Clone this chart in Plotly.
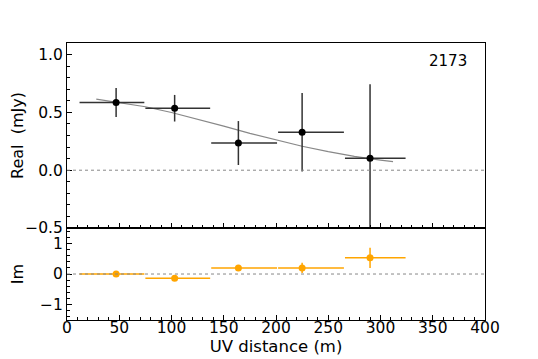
import plotly.graph_objects as go
from plotly.subplots import make_subplots

# binned visibilities
uv_dist = [47, 103, 164, 225, 290]
bin_lo = [12, 75, 138, 202, 266]
bin_hi = [74, 137, 201, 265, 324]

real_vals = [0.585, 0.536, 0.235, 0.328, 0.104]
real_err = [0.125, 0.115, 0.19, 0.34, 0.64]

imag_vals = [0.0, -0.14, 0.2, 0.2, 0.53]
imag_err = [0.04, 0.05, 0.07, 0.17, 0.33]

# model curve
model_x = [28, 50, 75, 100, 125, 150, 175, 200, 225, 250, 275, 300, 312]
model_y = [0.615, 0.587, 0.549, 0.499, 0.442, 0.381, 0.319, 0.260, 0.207, 0.160, 0.120, 0.088, 0.075]

label = '2173'

_FONT = 'DejaVu Sans'
_ORANGE = '#FFA500'
_ERR = '#333333'

xm = [x - lo for x, lo in zip(uv_dist, bin_lo)]
xp = [hi - x for x, hi in zip(uv_dist, bin_hi)]

fig = make_subplots(rows=2, cols=1, shared_xaxes=True, vertical_spacing=0,
                    row_heights=[0.668, 0.332])

fig.add_trace(go.Scatter(
    x=model_x, y=model_y, mode='lines',
    line=dict(color='#888888', width=1.2), showlegend=False,
), row=1, col=1)

fig.add_trace(go.Scatter(
    x=uv_dist, y=real_vals, mode='markers',
    marker=dict(color='black', size=7),
    error_x=dict(type='data', symmetric=False, array=xp, arrayminus=xm,
                 color=_ERR, thickness=1.5, width=0),
    error_y=dict(type='data', array=real_err, color=_ERR, thickness=1.5, width=0),
    showlegend=False,
), row=1, col=1)

fig.add_trace(go.Scatter(
    x=uv_dist, y=imag_vals, mode='markers',
    marker=dict(color=_ORANGE, size=7),
    error_x=dict(type='data', symmetric=False, array=xp, arrayminus=xm,
                 color=_ORANGE, thickness=1.5, width=0),
    error_y=dict(type='data', array=imag_err, color=_ORANGE, thickness=1.5, width=0),
    showlegend=False,
), row=2, col=1)

for r in (1, 2):
    fig.add_hline(y=0, line=dict(color='#888888', width=1, dash='dot'), row=r, col=1)

axis_common = dict(
    showline=True, linecolor='black', linewidth=1, mirror=True,
    ticks='inside', ticklen=5, tickcolor='black', showgrid=False, zeroline=False,
    tickfont=dict(size=15.5, color='black'),
)

fig.update_xaxes(range=[0, 400], dtick=50,
                 minor=dict(ticks='inside', dtick=10, ticklen=3, tickcolor='black'),
                 **axis_common)
fig.update_xaxes(showticklabels=False, row=1, col=1)
fig.update_xaxes(title=dict(text='UV distance (m)', font=dict(size=16.5, color='black'), standoff=4),
                 ticklabelstandoff=-7, row=2, col=1)

fig.update_yaxes(range=[-0.5, 1.1], tickvals=[-0.5, 0, 0.5, 1.0],
                 ticktext=['\u22120.5', '0.0', '0.5', '1.0'],
                 minor=dict(ticks='inside', dtick=0.1, ticklen=3, tickcolor='black'),
                 title=dict(text='Real\u00a0\u00a0(mJy)', font=dict(size=16, color='black'), standoff=8),
                 row=1, col=1, **axis_common)
fig.update_yaxes(range=[-1.5, 1.5], tickvals=[-1, 0, 1],
                 ticktext=['\u22121', '0', '1'],
                 minor=dict(ticks='inside', dtick=0.2, ticklen=3, tickcolor='black'),
                 title=dict(text='Im', font=dict(size=16, color='black'), standoff=16),
                 row=2, col=1, **axis_common)

fig.add_annotation(text=label, xref='x domain', yref='y domain', x=0.962, y=0.904,
                   xanchor='right', yanchor='middle', showarrow=False,
                   font=dict(size=15, color='black'))

# page body adds an 8px offset, so the figure is 8px smaller
fig.update_layout(
    width=530, height=351,
    margin=dict(l=59, r=53, t=35, b=39, autoexpand=False),
    paper_bgcolor='white', plot_bgcolor='white',
    font=dict(family=_FONT, color='black'),
)

fig.write_html('out.html')
